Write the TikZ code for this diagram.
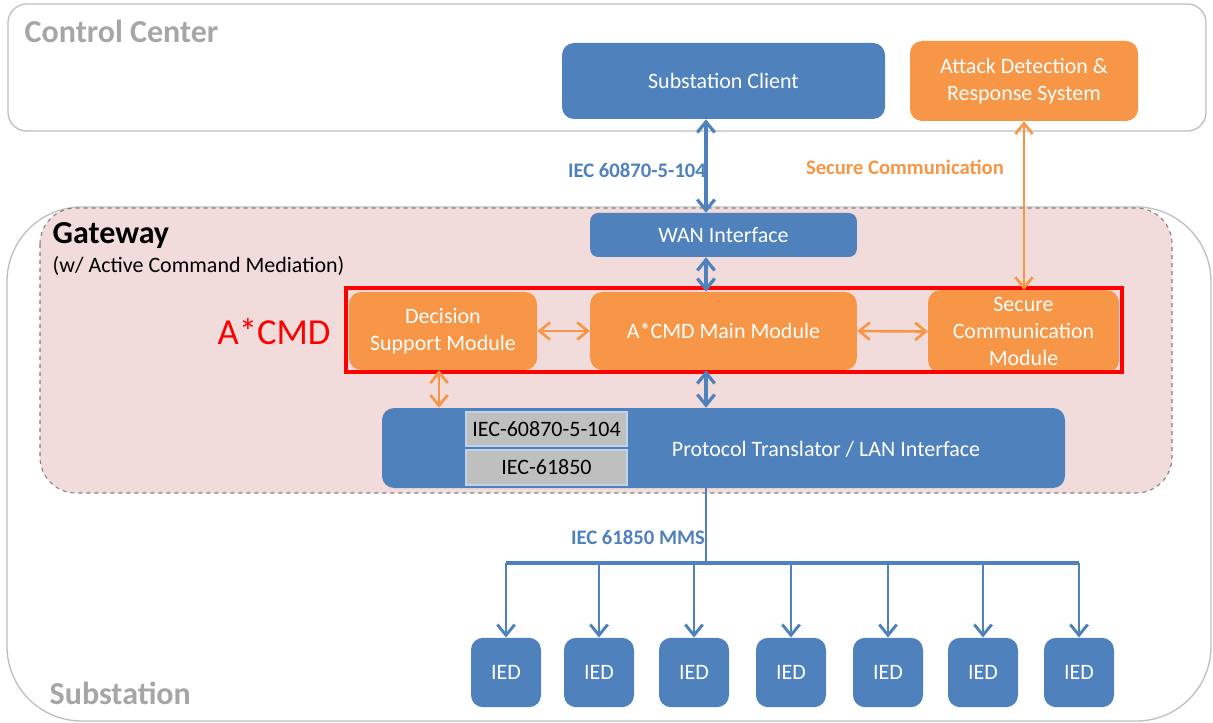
\documentclass[tikz,border=0pt]{standalone}
\usepackage{fontspec}
\setmainfont{Carlito}
\usepackage{tikz}
\usepackage{xcolor}
\usetikzlibrary{arrows.meta,calc}

\definecolor{cblue}{HTML}{4F81BD}
\definecolor{corange}{HTML}{F79646}
\definecolor{cpink}{HTML}{F2DCDB}
\definecolor{cgraytxt}{HTML}{A6A6A6}
\definecolor{cgraybox}{HTML}{BFBFBF}
\definecolor{cframe}{HTML}{BFBFBF}

\tikzset{
  txt/.style={font=\fontsize{16.5}{20}\selectfont},
  blubox/.style={fill=cblue,rounded corners=9pt,text=white,align=center,txt,inner sep=0pt},
  orabox/.style={fill=corange,rounded corners=9pt,text=white,align=center,txt,inner sep=0pt},
  protobox/.style={fill=cgraybox,draw=cblue!35,line width=1pt,txt,inner sep=0pt,
    minimum width=120.75pt,minimum height=25.5pt},
  ied/.style={blubox,minimum width=52.5pt,minimum height=52pt},
  bluarr/.style={cblue,line width=2.4pt,{Straight Barb[length=8pt,width=13pt]}-{Straight Barb[length=8pt,width=13pt]}},
  oraarr/.style={corange,line width=2pt,{Straight Barb[length=8pt,width=13pt]}-{Straight Barb[length=8pt,width=13pt]}},
  drop/.style={cblue,line width=2.2pt,-{Straight Barb[length=8pt,width=13pt]}},
  title/.style={font=\fontsize{24}{28}\selectfont\bfseries,text=cgraytxt,anchor=west},
  link/.style={font=\fontsize{15.5}{18}\selectfont\bfseries}
}

\begin{document}
\begin{tikzpicture}[x=0.75pt,y=-0.75pt]
      \useasboundingbox (0,0) rectangle (1213,723);
      % areas
      \draw [cframe,line width=1pt,rounded corners=56pt] (7,207) rectangle (1211,721);
      \draw [cframe,line width=1pt,rounded corners=14pt] (8,4) rectangle (1206,131);
      \draw [gray,dashed,fill=cpink,line width=0.8pt,rounded corners=27pt] (40,208) rectangle (1172,493);
      \node [title] (cc) at (20,31) {Control Center};
      \node [title] (sub) at (45,693) {Substation};
      \node [font=\fontsize{24}{28}\selectfont\bfseries,anchor=west] (gw) at (48,236) {Gateway};
      \node [txt,anchor=west] (gwsub) at (48,266) {(w/ Active Command Mediation)};
      \coordinate (axis) at (706,0);
      % control center
      \node [blubox,minimum width=242.25pt,minimum height=57pt] (client) at (723.5,81) {Substation Client};
      \node [orabox,minimum width=171pt,minimum height=60pt] (ads) at (1024,81) {Attack Detection \&\\Response System};
      % gateway
      \node [blubox,minimum width=200pt,minimum height=33pt,rounded corners=6pt] (wan) at (723.5,235) {WAN Interface};
      \node [orabox,minimum width=141pt,minimum height=58.5pt] (dsm) at (443,331) {Decision\\Support Module};
      \node [orabox,minimum width=200pt,minimum height=58.5pt] (main) at (723.5,331) {A*CMD Main Module};
      \node [orabox,minimum width=143pt,minimum height=62pt] (scm) at (1023.5,331.5) {Secure\\Communication\\Module};
      \draw [red,line width=2.6pt] (346,288) rectangle (1122,372);
      \node [font=\fontsize{27.5}{32}\selectfont,text=red] (acmd) at (274,332) {A*CMD};
      \node [blubox,minimum width=512.25pt,minimum height=60pt] (ptl) at (723.5,448) {};
      \node [txt,text=white] (ptltxt) at (826,449) {Protocol Translator / LAN Interface};
      \node [protobox] (p104) at (546.5,429) {IEC-60870-5-104};
      \node [protobox,minimum height=26.25pt] (p850) at (546.5,467.5) {IEC-61850};
      % links
      \draw [bluarr] (client.south -| axis) -- (wan.north -| axis);
      \node [link,text=cblue] (l104) at (637,170) {IEC 60870-5-104};
      \draw [oraarr] (ads.south) -- (ads.south |- scm.north);
      \node [link,text=corange] (lsec) at (905,167) {Secure Communication};
      \draw [bluarr] (wan.south -| axis) -- (main.north -| axis);
      \draw [oraarr] (dsm.east) -- (main.west);
      \draw [oraarr] (main.east) -- (scm.west);
      \draw [oraarr] ([xshift=-3pt]dsm.south) -- ([xshift=-3pt]dsm.south |- ptl.north);
      \draw [bluarr] (main.south -| axis) -- (ptl.north -| axis);
      % IEDs
      \coordinate (bus) at (706,563);
      \draw [cblue,line width=2.2pt] (ptl.south -| axis) -- (bus);
      \node [link,text=cblue] (lmms) at (638,537) {IEC 61850 MMS};
      \foreach \i/\xx in {1/506,2/599,3/694,4/791,5/888,6/983,7/1079}{
        \node [ied] (ied\i) at (\xx,672.5) {IED};
        \draw [drop] (ied\i.north |- bus) -- (ied\i.north);
      }
      \draw [cblue,line width=3pt] (ied1.north |- bus) -- (ied7.north |- bus);
    \end{tikzpicture}
\end{document}
